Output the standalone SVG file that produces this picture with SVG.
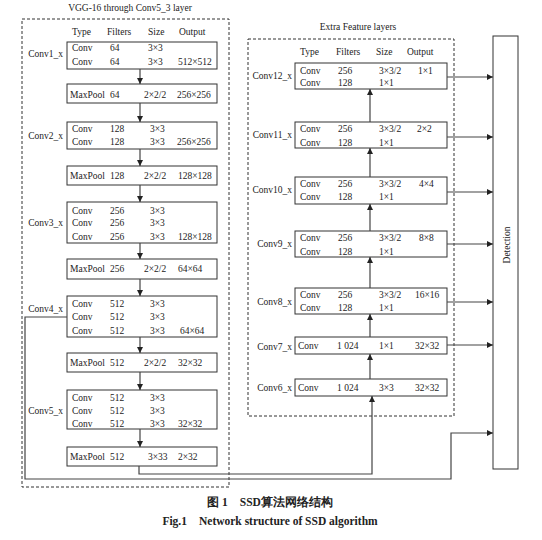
<svg xmlns="http://www.w3.org/2000/svg" width="542" height="540" viewBox="0 0 542 540">
<defs>
<style>
text{font-family:"Liberation Serif","Times New Roman",serif;font-size:9.5px;fill:#222}
.box{fill:#fff;stroke:#333;stroke-width:1}
.dash{fill:none;stroke:#333;stroke-width:1;stroke-dasharray:3,2}
.con{fill:none;stroke:#444;stroke-width:1.2}
.lbl{text-anchor:end}
.cap{font-weight:bold;font-size:11.5px;text-anchor:middle}
</style>
<marker id="ah" viewBox="0 0 10 10" refX="10" refY="5" markerWidth="7" markerHeight="6" markerUnits="userSpaceOnUse" orient="auto">
<path d="M0,0 L10,5 L0,10 z" fill="#222"/>
</marker>
</defs>
<rect width="542" height="540" fill="#fff"/>

<!-- section frames -->
<rect class="dash" x="22" y="19" width="207" height="468"/>
<text x="130" y="11" text-anchor="middle">VGG-16 through Conv5_3 layer</text>
<rect class="dash" x="248" y="39" width="206" height="377"/>
<text x="358" y="30" text-anchor="middle">Extra Feature layers</text>

<!-- headers -->
<g id="hdr-left">
<text x="72" y="35">Type</text><text x="107" y="35">Filters</text><text x="148" y="35">Size</text><text x="179" y="35">Output</text>
</g>
<g id="hdr-right">
<text x="300" y="55">Type</text><text x="336" y="55">Filters</text><text x="376" y="55">Size</text><text x="407" y="55">Output</text>
</g>

<!-- left column nodes -->
<g id="conv1">
<rect class="box" x="67" y="42" width="150" height="27"/>
<text class="lbl" x="63" y="57">Conv1_x</text>
<text x="72" y="51">Conv</text><text x="110" y="51">64</text><text x="148" y="51">3×3</text>
<text x="72" y="65">Conv</text><text x="110" y="65">64</text><text x="148" y="65">3×3</text><text x="178" y="65">512×512</text>
</g>
<g id="pool1">
<rect class="box" x="67" y="84" width="150" height="19"/>
<text x="70" y="98">MaxPool</text><text x="110" y="98">64</text><text x="144" y="98">2×2/2</text><text x="177" y="98">256×256</text>
</g>
<g id="conv2">
<rect class="box" x="67" y="122" width="150" height="27"/>
<text class="lbl" x="63" y="139">Conv2_x</text>
<text x="72" y="132">Conv</text><text x="110" y="132">128</text><text x="150" y="132">3×3</text>
<text x="72" y="145">Conv</text><text x="110" y="145">128</text><text x="150" y="145">3×3</text><text x="177" y="145">256×256</text>
</g>
<g id="pool2">
<rect class="box" x="67" y="166" width="150" height="19"/>
<text x="70" y="179">MaxPool</text><text x="110" y="179">128</text><text x="144" y="179">2×2/2</text><text x="178" y="179">128×128</text>
</g>
<g id="conv3">
<rect class="box" x="67" y="202" width="150" height="41"/>
<text class="lbl" x="63" y="226">Conv3_x</text>
<text x="72" y="214">Conv</text><text x="110" y="214">256</text><text x="150" y="214">3×3</text>
<text x="72" y="226">Conv</text><text x="110" y="226">256</text><text x="150" y="226">3×3</text>
<text x="72" y="240">Conv</text><text x="110" y="240">256</text><text x="150" y="240">3×3</text><text x="178" y="240">128×128</text>
</g>
<g id="pool3">
<rect class="box" x="67" y="259" width="150" height="20"/>
<text x="70" y="272">MaxPool</text><text x="110" y="272">256</text><text x="144" y="272">2×2/2</text><text x="178" y="272">64×64</text>
</g>
<g id="conv4">
<rect class="box" x="67" y="296" width="150" height="41"/>
<text class="lbl" x="63" y="312">Conv4_x</text>
<text x="72" y="307">Conv</text><text x="110" y="307">512</text><text x="150" y="307">3×3</text>
<text x="72" y="320">Conv</text><text x="110" y="320">512</text><text x="150" y="320">3×3</text>
<text x="72" y="334">Conv</text><text x="110" y="334">512</text><text x="150" y="334">3×3</text><text x="180" y="334">64×64</text>
</g>
<g id="pool4">
<rect class="box" x="67" y="353" width="150" height="19"/>
<text x="70" y="366">MaxPool</text><text x="110" y="366">512</text><text x="144" y="366">2×2/2</text><text x="178" y="366">32×32</text>
</g>
<g id="conv5">
<rect class="box" x="67" y="390" width="150" height="39"/>
<text class="lbl" x="63" y="414">Conv5_x</text>
<text x="72" y="401">Conv</text><text x="110" y="401">512</text><text x="150" y="401">3×3</text>
<text x="72" y="414">Conv</text><text x="110" y="414">512</text><text x="150" y="414">3×3</text>
<text x="72" y="427">Conv</text><text x="110" y="427">512</text><text x="150" y="427">3×3</text><text x="178" y="427">32×32</text>
</g>
<g id="pool5">
<rect class="box" x="67" y="447" width="150" height="19"/>
<text x="70" y="460">MaxPool</text><text x="110" y="460">512</text><text x="148" y="460">3×33</text><text x="178" y="460">2×32</text>
</g>

<!-- right column nodes -->
<g id="conv12">
<rect class="box" x="295" y="63" width="152" height="26"/>
<text class="lbl" x="292" y="79">Conv12_x</text>
<text x="300" y="74">Conv</text><text x="338" y="74">256</text><text x="379" y="74">3×3/2</text><text x="418" y="74">1×1</text>
<text x="300" y="86">Conv</text><text x="338" y="86">128</text><text x="379" y="86">1×1</text>
</g>
<g id="conv11">
<rect class="box" x="295" y="122" width="152" height="26"/>
<text class="lbl" x="292" y="138">Conv11_x</text>
<text x="300" y="132">Conv</text><text x="338" y="132">256</text><text x="379" y="132">3×3/2</text><text x="417" y="132">2×2</text>
<text x="300" y="146">Conv</text><text x="338" y="146">128</text><text x="379" y="146">1×1</text>
</g>
<g id="conv10">
<rect class="box" x="295" y="177" width="152" height="27"/>
<text class="lbl" x="292" y="193">Conv10_x</text>
<text x="300" y="187">Conv</text><text x="338" y="187">256</text><text x="379" y="187">3×3/2</text><text x="419" y="187">4×4</text>
<text x="300" y="200">Conv</text><text x="338" y="200">128</text><text x="379" y="200">1×1</text>
</g>
<g id="conv9">
<rect class="box" x="295" y="231" width="152" height="26"/>
<text class="lbl" x="292" y="247">Conv9_x</text>
<text x="300" y="241">Conv</text><text x="338" y="241">256</text><text x="379" y="241">3×3/2</text><text x="419" y="241">8×8</text>
<text x="300" y="255">Conv</text><text x="338" y="255">128</text><text x="379" y="255">1×1</text>
</g>
<g id="conv8">
<rect class="box" x="295" y="288" width="152" height="26"/>
<text class="lbl" x="292" y="305">Conv8_x</text>
<text x="300" y="298">Conv</text><text x="338" y="298">256</text><text x="379" y="298">3×3/2</text><text x="415" y="298">16×16</text>
<text x="300" y="311">Conv</text><text x="338" y="311">128</text><text x="379" y="311">1×1</text>
</g>
<g id="conv7">
<rect class="box" x="295" y="337" width="152" height="17"/>
<text class="lbl" x="292" y="350">Conv7_x</text>
<text x="298" y="349">Conv</text><text x="337" y="349">1 024</text><text x="379" y="349">1×1</text><text x="415" y="349">32×32</text>
</g>
<g id="conv6">
<rect class="box" x="295" y="379" width="152" height="17"/>
<text class="lbl" x="292" y="391">Conv6_x</text>
<text x="298" y="391">Conv</text><text x="337" y="391">1 024</text><text x="379" y="391">3×3</text><text x="415" y="391">32×32</text>
</g>

<g id="detection">
<rect class="box" x="493" y="36" width="25" height="433"/>
<text x="507" y="245" text-anchor="middle" transform="rotate(-90 507 245)" dy="3">Detection</text>
</g>

<!-- connectors -->
<g id="connectors">
<line class="con" x1="140" y1="69" x2="140" y2="84" marker-end="url(#ah)"/>
<line class="con" x1="140" y1="103" x2="140" y2="122" marker-end="url(#ah)"/>
<line class="con" x1="140" y1="149" x2="140" y2="166" marker-end="url(#ah)"/>
<line class="con" x1="140" y1="185" x2="140" y2="202" marker-end="url(#ah)"/>
<line class="con" x1="140" y1="243" x2="140" y2="259" marker-end="url(#ah)"/>
<line class="con" x1="140" y1="279" x2="140" y2="296" marker-end="url(#ah)"/>
<line class="con" x1="140" y1="337" x2="140" y2="353" marker-end="url(#ah)"/>
<line class="con" x1="140" y1="372" x2="140" y2="390" marker-end="url(#ah)"/>
<line class="con" x1="140" y1="429" x2="140" y2="447" marker-end="url(#ah)"/>

<line class="con" x1="370" y1="379" x2="370" y2="354" marker-end="url(#ah)"/>
<line class="con" x1="370" y1="337" x2="370" y2="314" marker-end="url(#ah)"/>
<line class="con" x1="370" y1="288" x2="370" y2="257" marker-end="url(#ah)"/>
<line class="con" x1="370" y1="231" x2="370" y2="204" marker-end="url(#ah)"/>
<line class="con" x1="370" y1="177" x2="370" y2="148" marker-end="url(#ah)"/>
<line class="con" x1="370" y1="122" x2="370" y2="89" marker-end="url(#ah)"/>

<line class="con" x1="447" y1="77" x2="493" y2="77" marker-end="url(#ah)"/>
<line class="con" x1="447" y1="137" x2="493" y2="137" marker-end="url(#ah)"/>
<line class="con" x1="447" y1="192" x2="493" y2="192" marker-end="url(#ah)"/>
<line class="con" x1="447" y1="244" x2="493" y2="244" marker-end="url(#ah)"/>
<line class="con" x1="447" y1="302" x2="493" y2="302" marker-end="url(#ah)"/>
<line class="con" x1="447" y1="345" x2="493" y2="345" marker-end="url(#ah)"/>

<polyline class="con" points="67,317 25,317 25,479 451,479 451,433 493,433" marker-end="url(#ah)"/>
<polyline class="con" points="139,466 139,474 372,474 372,396" marker-end="url(#ah)"/>
</g>

<!-- caption -->
<text class="cap" x="270" y="506" font-family="'Liberation Serif','Noto Sans CJK SC',serif">图 1　SSD算法网络结构</text>
<text class="cap" x="270" y="525">Fig.1　Network structure of SSD algorithm</text>
</svg>
